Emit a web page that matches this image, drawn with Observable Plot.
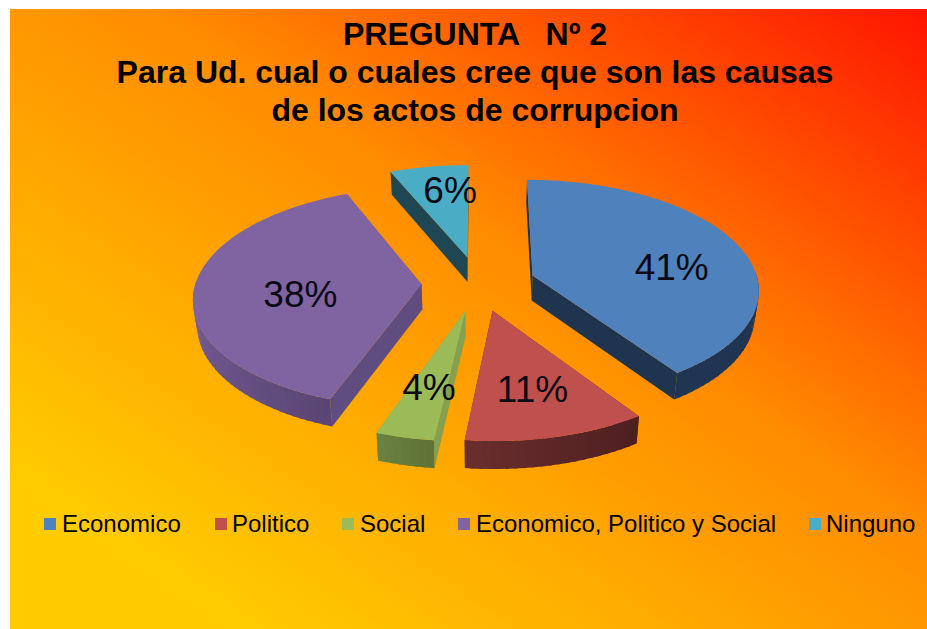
<!DOCTYPE html>
<html lang="es">
<head>
<meta charset="utf-8">
<script src="https://cdn.jsdelivr.net/npm/d3@7"></script>
<script src="https://cdn.jsdelivr.net/npm/@observablehq/plot@0.6"></script>
<style>
  html, body { margin: 0; padding: 0; background: #fff; }
  #chart { position: relative; width: 927px; height: 629px; overflow: hidden; font-family: "Liberation Sans", Arial, sans-serif; color: #000; }
  #bg { position: absolute; left: 10px; top: 9px; right: 0; bottom: 0;
        background: linear-gradient(to top right, #ffcc00 0%, #ffcc00 12%, #ff8c00 58%, #ff1500 100%); }
  #title { position: absolute; left: 0; width: 950px; top: 15px; text-align: center; font-weight: bold; font-size: 32px; line-height: 38px; white-space: pre; }
  #chart svg { position: absolute; left: 0; top: 0; background: transparent; }
  .lg { position: absolute; top: 510px; font-size: 24px; line-height: 27px; white-space: pre; }
  .sw { position: absolute; top: 518px; width: 12px; height: 12px; }
</style>
</head>
<body>
<div id="chart"><div id="bg"></div><div id="title"></div></div>
<script>
// Data
const categories = ["Economico", "Politico", "Social", "Economico, Politico y Social", "Ninguno"];
const shares = [40.5, 11.3, 3.6, 38.2, 6.4];
const labels = ["41%", "11%", "4%", "38%", "6%"];
const titleLines = ["PREGUNTA   Nº 2", "Para Ud. cual o cuales cree que son las causas", "de los actos de corrupcion"];

// Styles
const topColors = ["#4f81bd", "#c0504d", "#9bbb59", "#8064a2", "#4bacc6"];
const radialWall = ["#1f344f", "#5a2525", "#85a04f", "#604d7f", "#1f4753"];
const outerWallRight = ["#1f3552", "#4e1f1f", "#5f7338", "#5a4675", "#1f4753"];
const outerWallLeft = ["#1f3552", "#6b2e2e", "#6b8440", "#7a619e", "#1f4753"];
const labelAngle = [84, 166.4, 192.7, 259, 352.7];
const labelRadius = [0.631, 0.656, 0.64, 0.536, 0.70];
const swatchLeft = [44, 215, 342, 458, 809];
const textLeft = [62, 232, 360, 476, 826];

// Projection of the tilted, exploded pie
const cx = 478, cy = 283, R = 226, tilt = 0.48, persp = 0.115, explode = 57, thick = 25;
function project(X, Y, z = 0) {
  const s = 1 / (1 - persp * Y / R);
  return {
    x: cx + X * s * (1 - 0.015 * z),
    y: cy + tilt * Y * s + z * thick * (1 + 0.7 * (s - 1))
  };
}
const rad = d => d * Math.PI / 180;
const total = d3.sum(shares);
let acc = 0;
const slices = shares.map((v, i) => {
  const a0 = acc / total * 360; acc += v;
  const a1 = acc / total * 360;
  const mid = (a0 + a1) / 2;
  return { i, a0, a1, ox: explode * Math.sin(rad(mid)), oy: -explode * Math.cos(rad(mid)) };
});
const rim = (sl, a, r = R) => [sl.ox + r * Math.sin(rad(a)), sl.oy - r * Math.cos(rad(a))];

const polys = [];  // walls
const tops = [];
let id = 0;
const addPoly = (target, pts, color) => {
  const k = id++;
  pts.forEach(p => target.push({ x: p.x, y: p.y, id: k, color }));
};
// draw back to front
const order = [4, 3, 0, 1, 2];
for (const i of order) {
  const sl = slices[i];
  const apexT = project(sl.ox, sl.oy), apexB = project(sl.ox, sl.oy, 1);
  for (const a of [sl.a0, sl.a1]) {
    const [X, Y] = rim(sl, a);
    addPoly(polys, [apexT, project(X, Y), project(X, Y, 1), apexB], radialWall[i]);
  }
}
for (const i of order) {
  const sl = slices[i];
  const from = Math.max(sl.a0, 88), to = Math.min(sl.a1, 272);
  if (to <= from) continue;
  const n = Math.max(4, Math.ceil((to - from) / 2));
  const mix = d3.interpolateRgb(outerWallRight[i], outerWallLeft[i]);
  const lo = Math.max(from, 120), hi = Math.min(to, 270);
  for (let j = 0; j < n; j++) {
    const a = from + (to - from) * j / n;
    const b = Math.min(to, from + (to - from) * (j + 1) / n + 0.7);  // overlap hides seams
    const [X0, Y0] = rim(sl, a), [X1, Y1] = rim(sl, b);
    const u = Math.min(1, Math.max(0, (a - lo) / Math.max(1, hi - lo)));
    addPoly(polys, [project(X0, Y0), project(X1, Y1), project(X1, Y1, 1), project(X0, Y0, 1)], mix(u));
  }
}
for (const i of order) {
  const sl = slices[i];
  const n = Math.ceil((sl.a1 - sl.a0) / 1.5);
  const pts = [project(sl.ox, sl.oy)];
  for (let j = 0; j <= n; j++) {
    const [X, Y] = rim(sl, sl.a0 + (sl.a1 - sl.a0) * j / n);
    pts.push(project(X, Y));
  }
  addPoly(tops, pts, topColors[i]);
}
const labelRows = slices.map((sl, i) => {
  const [X, Y] = rim(sl, labelAngle[i], R * labelRadius[i]);
  return { ...project(X, Y), text: labels[i] };
});

const chart = Plot.plot({
  width: 927, height: 629, margin: 0,
  x: { domain: [0, 927], range: [0, 927], axis: null },
  y: { domain: [0, 629], range: [0, 629], axis: null },
  color: { type: "identity" },
  marks: [
    Plot.line(polys, { x: "x", y: "y", z: "id", fill: "color", stroke: null, curve: "linear-closed" }),
    Plot.line(tops, { x: "x", y: "y", z: "id", fill: "color", stroke: null, curve: "linear-closed" }),
    Plot.text(labelRows, { x: "x", y: "y", text: "text", fontSize: 37, fill: "#0a0a14", fontFamily: "Liberation Sans, Arial, sans-serif" })
  ]
});
const root = document.getElementById("chart");
root.appendChild(chart);
document.getElementById("title").textContent = titleLines.join("\n");
categories.forEach((c, i) => {
  const sw = document.createElement("div");
  sw.className = "sw"; sw.style.left = swatchLeft[i] + "px"; sw.style.background = topColors[i];
  const t = document.createElement("div");
  t.className = "lg"; t.style.left = textLeft[i] + "px"; t.textContent = c;
  root.append(sw, t);
});
</script>
</body>
</html>
